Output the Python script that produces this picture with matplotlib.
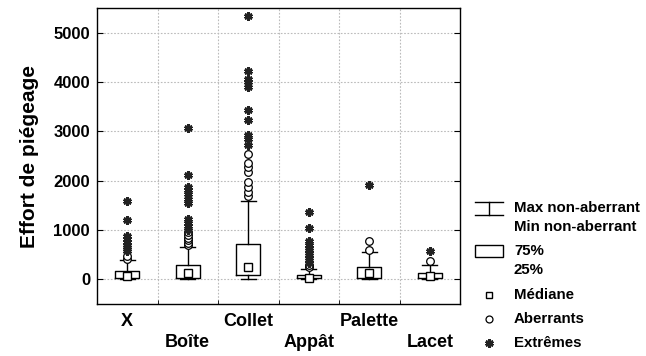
import matplotlib
matplotlib.use("Agg")
import matplotlib.pyplot as plt
from matplotlib.patches import Rectangle

plt.rcParams['font.family'] = ['Liberation Sans', 'DejaVu Sans']
plt.rcParams['font.weight'] = 'bold'

categories = ['X', 'Boîte', 'Collet', 'Appât', 'Palette', 'Lacet']
q1 = [20, 35, 85, 25, 20, 35]
q3 = [170, 290, 710, 95, 250, 135]
medians = [65, 120, 250, 25, 135, 67]
whis_lo = [0, 0, 0, 0, 0, 0]
whis_hi = [385, 655, 1585, 205, 560, 290]
outliers = [
    [420, 480],
    [690, 740, 790, 840, 890, 950],
    [1680, 1770, 1870, 1970, 2170, 2275, 2360, 2550],
    [250, 300],
    [585, 770],
    [370],
]
extremes = [
    [570, 610, 650, 700, 760, 820, 870, 1200, 1585],
    [1010, 1080, 1150, 1230, 1540, 1620, 1720, 1820, 1870, 2125, 3075],
    [2720, 2835, 2920, 3225, 3440, 3900, 3995, 4070, 4215, 5345],
    [340, 390, 440, 490, 540, 590, 640, 700, 775, 1050, 1370],
    [1910],
    [573],
]
y_ticks = [0, 1000, 2000, 3000, 4000, 5000]
legend_labels = ['Max non-aberrant', 'Min non-aberrant', '75%', '25%',
                 'Médiane', 'Aberrants', 'Extrêmes']

W, H = 646, 356
fig = plt.figure(figsize=(W / 100, H / 100), dpi=100)
ax = fig.add_axes([97 / W, 1 - 304 / H, (460 - 97) / W, (304 - 8) / H])

pos = list(range(len(categories)))
stats = []
for i in pos:
    stats.append(dict(med=medians[i], q1=q1[i], q3=q3[i],
                      whislo=whis_lo[i], whishi=whis_hi[i], fliers=[]))
ax.bxp(stats, positions=pos, widths=0.4, capwidths=0.24, showfliers=False,
       boxprops=dict(color='black', linewidth=1.0),
       whiskerprops=dict(color='black', linewidth=1.0),
       capprops=dict(color='black', linewidth=1.0),
       medianprops=dict(linewidth=0))

star = (6, 2, 0)
for i in pos:
    ax.plot([i] * len(outliers[i]), outliers[i], linestyle='none', marker='o',
            ms=5.5, mfc='white', mec='black', mew=0.9, zorder=4)
    ax.plot([i] * len(extremes[i]), extremes[i], linestyle='none', marker=star,
            ms=6, mec='#222222', mew=2.0, zorder=4)
ax.plot(pos, medians, linestyle='none', marker='s', ms=5.5, mfc='white',
        mec='black', mew=1.0, zorder=5)

ax.set_xlim(-0.5, 5.5)
ax.set_ylim(-500, 5500)
ax.set_yticks(y_ticks)
ax.set_yticklabels([str(v) for v in y_ticks], fontsize=12, fontweight='bold')
ax.set_xticks(pos)
ax.set_xticklabels([c if i % 2 == 0 else '\n' + c for i, c in enumerate(categories)],
                   fontsize=13, fontweight='bold', linespacing=1.3)
ax.set_xticks([p + 0.5 for p in pos[:-1]], minor=True)
ax.tick_params(axis='x', which='major', length=0, pad=6.5)
ax.tick_params(axis='x', which='minor', direction='in', length=3, top=False)
ax.tick_params(axis='y', direction='in', length=4, right=True, left=True, pad=5)
ax.grid(True, which='minor', axis='x', linestyle=(0, (1.5, 1.5)), color='#bbbbbb', linewidth=0.8)
ax.grid(True, which='major', axis='y', linestyle=(0, (1.5, 1.5)), color='#bbbbbb', linewidth=0.8)
ax.set_axisbelow(True)
for s in ax.spines.values():
    s.set_linewidth(1.0)
ax.set_ylabel('Effort de piégeage', fontsize=15, fontweight='bold', labelpad=10.5)

# legend drawn in pixel coordinates
lg = fig.add_axes([0, 0, 1, 1], facecolor='none')
lg.set_xlim(0, W)
lg.set_ylim(H, 0)
lg.axis('off')
lg.plot([475, 503], [202, 202], color='black', lw=1)
lg.plot([475, 503], [215, 215], color='black', lw=1)
lg.plot([489, 489], [202, 215], color='black', lw=1)
lg.add_patch(Rectangle((475, 245), 28, 12, fill=False, edgecolor='black', lw=1))
lg.plot([489], [295], marker='s', ms=5, mfc='white', mec='black', mew=1.0)
lg.plot([489], [319], marker='o', ms=5, mfc='white', mec='black', mew=0.9)
lg.plot([489], [343], marker=star, ms=6, mec='#222222', mew=2.0)
ys = [208, 227, 251, 270, 295, 319, 343]
for t, y in zip(legend_labels, ys):
    lg.text(514, y, t, fontsize=10.8, fontweight='bold', va='center', ha='left')

fig.savefig('out.png', dpi=100)
